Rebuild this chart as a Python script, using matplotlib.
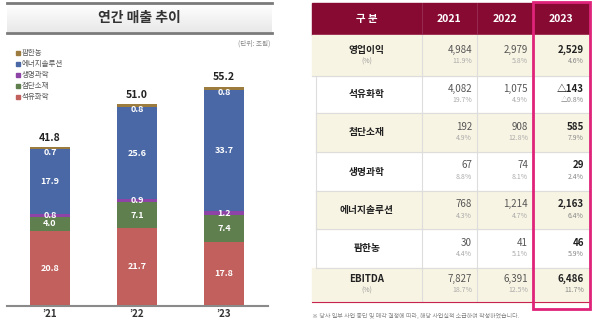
import matplotlib.pyplot as plt
import numpy as np
from matplotlib.patches import Rectangle

plt.rcParams['font.family'] = ['Noto Sans CJK KR', 'DejaVu Sans']

# chart data (조원)
years = ['’21', '’22', '’23']
totals = [41.8, 51.0, 55.2]
segments = ['석유화학', '첨단소재', '생명과학', '에너지솔루션', '팜한농']
petro = [20.8, 21.7, 17.8]
adv_mat = [4.0, 7.1, 7.4]
life_sci = [0.8, 0.9, 1.2]
energy = [17.9, 25.6, 33.7]
farm = [0.7, 0.8, 0.8]
seg_colors = ['#C1605C', '#5F7F4F', '#8E44A6', '#4A68A6', '#9C7B3E']

# table data (억원)
col_heads = ['구 분', '2021', '2022', '2023']
row_names = ['영업이익', '석유화학', '첨단소재', '생명과학', '에너지솔루션', '팜한농', 'EBITDA']
val_2021 = ['4,984', '4,082', '192', '67', '768', '30', '7,827']
val_2022 = ['2,979', '1,075', '908', '74', '1,214', '41', '6,391']
val_2023 = ['2,529', '△143', '585', '29', '2,163', '46', '6,486']
pct_2021 = ['11.9%', '19.7%', '4.9%', '8.8%', '4.3%', '4.4%', '18.7%']
pct_2022 = ['5.8%', '4.9%', '12.8%', '8.1%', '4.7%', '5.1%', '12.5%']
pct_2023 = ['4.6%', '△0.8%', '7.9%', '2.4%', '6.4%', '5.9%', '11.7%']

fig = plt.figure(figsize=(6, 3.23), dpi=100)

# ---- stacked bar chart ----
ax = fig.add_axes([7 / 600, 17 / 323, 261 / 600, 266 / 323])
x = np.arange(len(years))
series = [petro, adv_mat, life_sci, energy, farm]
bottom = np.zeros(len(years))
for name, vals, c in zip(segments, series, seg_colors):
    vals = np.array(vals)
    ax.bar(x, vals, 0.47, bottom=bottom, color=c, label=name)
    for xi, b, v in zip(x, bottom, vals):
        if name == '팜한농':
            ty = b + v - 1.6
        else:
            ty = b + v / 2
        ax.text(xi, ty, f'{v:.1f}', ha='center', va='center', color='white',
                fontsize=6.5, fontweight='bold')
    bottom = bottom + vals
for xi, top, t in zip(x, bottom, totals):
    ax.text(xi, top + 2.6, f'{t:.1f}', ha='center', va='center', color='#222222',
            fontsize=7.5, fontweight='bold')

ax.set_xlim(-0.494, 2.506)
ax.set_ylim(0, 73.9)
ax.set_xticks(x)
ax.set_xticklabels(years, fontsize=7, fontweight='bold', color='#333333')
ax.tick_params(axis='x', length=0, pad=2)
ax.set_yticks([])
for s in ['top', 'left', 'right']:
    ax.spines[s].set_visible(False)
ax.spines['bottom'].set_color('#8a8a8a')
ax.spines['bottom'].set_linewidth(1.5)

# ---- overlay for title, legend and table ----
ov = fig.add_axes([0, 0, 1, 1])
ov.set_xlim(0, 600)
ov.set_ylim(323, 0)
ov.axis('off')

# title box with gradient
grad = np.linspace(1.0, 0.91, 50).reshape(-1, 1)
ov.imshow(grad, cmap='gray', vmin=0, vmax=1, extent=[7, 272, 32, 3], aspect='auto', zorder=0)
ov.plot([7, 272], [3, 3], color='#7a7a7a', lw=2)
ov.plot([7, 272], [32.5, 32.5], color='#7a7a7a', lw=2)
ov.text(139.5, 18, '연간 매출 추이', ha='center', va='center', fontsize=10,
        fontweight='bold', color='#333333')
ov.text(270, 44, '(단위: 조원)', ha='right', va='center', fontsize=4.8, color='#888888')

# legend (reverse order)
for i, (name, c) in enumerate(zip(segments[::-1], seg_colors[::-1])):
    ly = 53 + i * 11
    ov.add_patch(Rectangle((16, ly - 1.8), 3.6, 3.6, color=c))
    ov.text(21.5, ly, name, ha='left', va='center', fontsize=5.4, color='#555555')

# table
col_x = [311.7, 421.7, 477, 533, 589]
row_y = [3, 35, 76, 113, 152, 191, 229, 268, 302]
maroon = '#870A33'
cream = '#F8F4E3'
grid = '#DDDDDD'

ov.add_patch(Rectangle((col_x[0], row_y[0]), col_x[-1] - col_x[0], row_y[1] - row_y[0],
                       color=maroon, zorder=1))
for j, h in enumerate(col_heads):
    cx = (col_x[j] + col_x[j + 1]) / 2
    ov.text(cx, (row_y[0] + row_y[1]) / 2, h, ha='center', va='center', color='white',
            fontsize=7.5, fontweight='bold', zorder=3)
for xx in col_x[1:-1]:
    ov.plot([xx, xx], [row_y[0], row_y[1]], color='#9a3055', lw=0.6, zorder=2)

vals = [val_2021, val_2022, val_2023]
pcts = [pct_2021, pct_2022, pct_2023]
for i, name in enumerate(row_names):
    y0, y1 = row_y[i + 1], row_y[i + 2]
    cy = (y0 + y1) / 2
    sub = 0 < i < len(row_names) - 1
    left = 315.7 if sub else col_x[0]
    if i % 2 == 0:
        ov.add_patch(Rectangle((left, y0), col_x[-1] - left, y1 - y0, color=cream, zorder=1))
    if sub:
        ov.plot([left, left], [y0, y1], color=grid, lw=0.8, zorder=2)
        ov.text((col_x[0] + col_x[1]) / 2, cy, name, ha='center', va='center',
                fontsize=7, fontweight='bold', color='#222222', zorder=3)
    else:
        ov.text((col_x[0] + col_x[1]) / 2, cy - 6, name, ha='center', va='center',
                fontsize=7, fontweight='bold', color='#222222', zorder=3)
        ov.text((col_x[0] + col_x[1]) / 2, cy + 6, '(%)', ha='center', va='center',
                fontsize=5, color='#999999', zorder=3)
    if i < len(row_names) - 1:
        ov.plot([left, col_x[-1]], [y1, y1], color=grid, lw=0.8, zorder=2)
    for j in range(3):
        rx = col_x[j + 2] - 5
        last = j == 2
        ov.text(rx, cy - 6, vals[j][i], ha='right', va='center', fontsize=7,
                fontweight='bold' if last else 'normal',
                color='#222222' if last else '#555555', zorder=3)
        ov.text(rx, cy + 5.5, pcts[j][i], ha='right', va='center', fontsize=5,
                color='#888888' if last else '#aaaaaa', zorder=3)
    for xx in col_x[1:-1]:
        ov.plot([xx, xx], [y0, y1], color=grid, lw=0.8, zorder=2)

ov.plot([col_x[0], col_x[-1]], [row_y[-1], row_y[-1]], color='#C8244F', lw=0.8, zorder=2)

# highlight box on 2023
ov.add_patch(Rectangle((533, 2), 57, 307, fill=False, edgecolor='#E0237A', lw=2, zorder=4))

ov.text(312, 316, '※ 당사 일부 사업 중단 및 매각 결정에 따라, 해당 사업실적 소급하여 작성하였습니다.',
        ha='left', va='center', fontsize=4.3, color='#888888')

fig.savefig('out.png', dpi=100)
